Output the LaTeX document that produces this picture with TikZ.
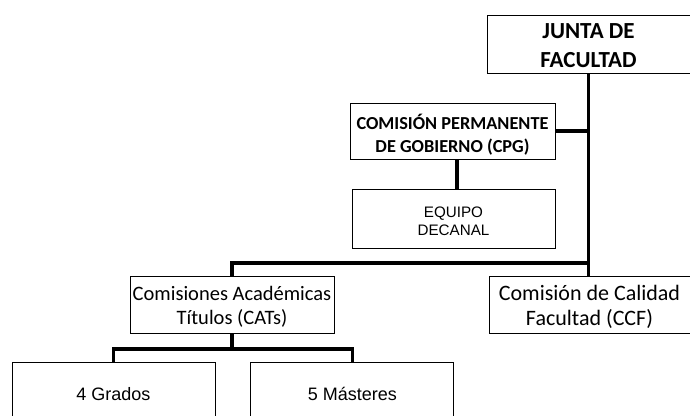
\documentclass[tikz,border=0pt]{standalone}
\usepackage{fontspec}
\setmainfont{Carlito}
\newfontfamily\arialfont{Liberation Sans}
\usetikzlibrary{positioning}
\tikzset{
  every picture/.style = {
    x = 1pt,
    y = -1pt,
    node distance = 30pt and 35pt,
  }
  ,
  link/.style = {
    line width = 3.5pt
  }
  ,
  org/.style = {
    rectangle,
    draw,
    line width = 0.9pt,
    align = center,
    inner sep = 0pt,
    text depth = 0pt,
    minimum width = 203pt,
    minimum height = 57pt
  }
  , % bold boxes at the top
  org-head/.style = {
    org,
    text height = 46pt,
    font = \bfseries\fontsize{23}{29}\selectfont
  }
  ,
  org-cpg/.style = {
    org,
    minimum width = 205pt,
    minimum height = 56pt,
    text height = 42pt,
    font = \bfseries\fontsize{18.3}{23}\selectfont
  }
  , % boxes in Arial
  org-plain/.style = {
    org,
    text height = 33pt,
    font = \arialfont\fontsize{15.2}{18}\selectfont
  }
  ,
  org-low/.style = {
    org,
    minimum height = 64pt,
    text height = 13.4pt,
    font = \arialfont\fontsize{18}{22}\selectfont
  }
  , % commissions
  org-com/.style = {
    org,
    text height = 39pt,
    font = \fontsize{20.5}{24}\selectfont
  }
}

\begin{document}
\begin{tikzpicture}
\useasboundingbox (0,0) rectangle (690,415);
\node [org-head, minimum height = 58pt] (junta) at (588.5,44) {JUNTA DE\\FACULTAD};
\node [org-cpg] (cpg) at (452.5,131) {COMISIÓN PERMANENTE\\DE GOBIERNO (CPG)};
\node [org-plain, minimum height = 59pt, below = of cpg, xshift = 1pt] (equipo) {EQUIPO\\DECANAL};
\node [org-com, minimum width = 204pt] (cat) at (232,304.5) {Comisiones Académicas\\Títulos (CATs)};
\node [org-com, minimum width = 201pt, text height = 40pt, font = \fontsize{22}{25}\selectfont] (ccf) at (589.5,305) {Comisión de Calidad\\Facultad (CCF)};
\node [org-low] (grados) at (113.5,394) {4 Grados};
\node [org-low, right = of grados] (masteres) {5 Másteres};

\coordinate (split) at (588,263);
\coordinate (fork) at (232,349);

\draw [link] (junta.south) -- (junta.south |- ccf.north);
\draw [link] (cpg.east) -- (cpg.east -| junta.south);
\draw [link] ([xshift = 4.5pt]cpg.south) -- ([xshift = 4.5pt]cpg.south |- equipo.north);
\draw [link] (cat.north) |- (split);
\draw [link] (cat.south) -- (fork);
\draw [link] (grados.north) |- (fork) -| (masteres.north);
\end{tikzpicture}
\end{document}
